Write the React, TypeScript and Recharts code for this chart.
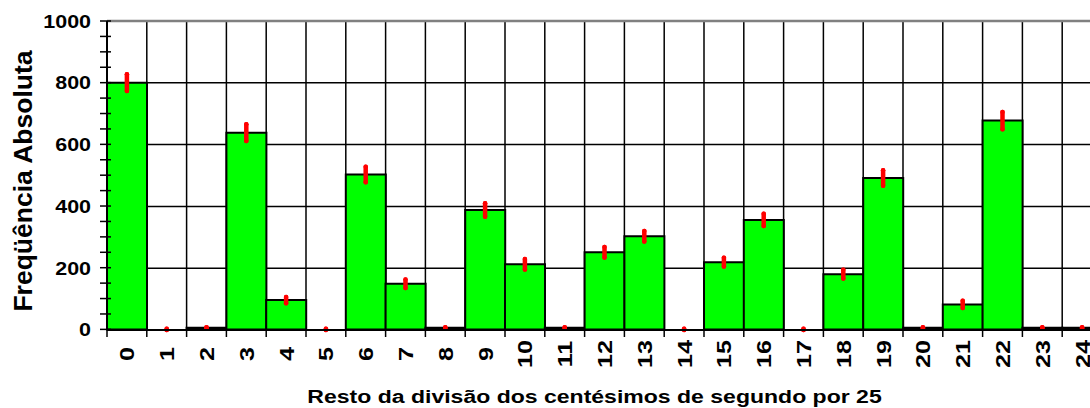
import { ComposedChart, Bar, Scatter, XAxis, YAxis, CartesianGrid, ErrorBar, ReferenceLine } from "recharts";

const categories = ["0", "1", "2", "3", "4", "5", "6", "7", "8", "9", "10", "11", "12", "13", "14", "15", "16", "17", "18", "19", "20", "21", "22", "23", "24"];
const counts = [800, 0, 5, 638, 95, 0, 502, 148, 5, 387, 211, 5, 250, 302, 0, 218, 355, 0, 179, 491, 5, 81, 677, 5, 5];
const errors = [27, 2, 2, 27, 10, 2, 25, 14, 2, 22, 17, 2, 17, 17, 2, 14, 20, 2, 14, 25, 2, 12, 28, 2, 2];

const yTicks = [0, 50, 100, 150, 200, 250, 300, 350, 400, 450, 500, 550, 600, 650, 700, 750, 800, 850, 900, 950, 1000];
const yLabels = [0, 200, 400, 600, 800, 1000];
const gridValues = [200, 400, 600, 800];

const xTitle = "Resto da divisão dos centésimos de segundo por 25";
const yTitle = "Freqüência Absoluta";

const font = "Arial, 'Liberation Sans', sans-serif";

const chartData = categories.map((c, i) => ({ cat: c, count: counts[i], err: errors[i] }));

const YTick = (props: any) => {
  const { x, y, payload } = props;
  const v = payload.value;
  return (
    <g>
      <line x1={x - 7} x2={x + 4} y1={y} y2={y} stroke="#000" strokeWidth={1.5} />
      {yLabels.includes(v) && (
        <text
          transform={`translate(${x - 16},${y + 6.8}) scale(1.16,1)`}
          textAnchor="end"
          fontFamily={font}
          fontWeight="bold"
          fontSize={18.5}
          fill="#000"
        >
          {v}
        </text>
      )}
    </g>
  );
};

const XTick = (props: any) => {
  const { x, y, payload } = props;
  const half = payload.offset || 19.9;
  return (
    <g>
      <line x1={x - half} x2={x - half} y1={y} y2={y + 7} stroke="#000" strokeWidth={1.5} />
      <text
        transform={`translate(${x + 7.5},${y + 24}) rotate(-90) scale(1.2,1)`}
        textAnchor="middle"
        fontFamily={font}
        fontWeight="bold"
        fontSize={21}
        fill="#000"
      >
        {payload.value}
      </text>
    </g>
  );
};

const NoPoint = () => <g />;

export default function App() {
  return (
    <div style={{ position: "absolute", left: 0, top: 0, width: 1090, height: 408, overflow: "hidden", background: "#fff" }}>
      <ComposedChart
        width={1110}
        height={408}
        data={chartData}
        margin={{ top: 21, right: 8, bottom: 0, left: 0 }}
        barCategoryGap={0}
        barGap={0}
      >
        <CartesianGrid
          stroke="#000"
          strokeWidth={1.5}
          horizontalCoordinatesGenerator={({ offset }: any) =>
            gridValues.map((v) => offset.top + offset.height * (1 - v / 1000))
          }
          verticalCoordinatesGenerator={({ offset }: any) =>
            categories.map((_, i) => offset.left + ((i + 1) * offset.width) / categories.length)
          }
        />
        <ReferenceLine y={1000} stroke="#808080" strokeWidth={2.5} />
        <XAxis
          dataKey="cat"
          height={78}
          interval={0}
          tickLine={false}
          tickSize={0}
          tickMargin={0}
          tick={<XTick />}
          axisLine={{ stroke: "#000", strokeWidth: 2 }}
          label={{
            content: () => (
              <text
                transform="translate(594.5,402.5) scale(1.28,1)"
                textAnchor="middle"
                fontFamily={font}
                fontWeight="bold"
                fontSize={18}
                fill="#000"
              >
                {xTitle}
              </text>
            ),
          }}
        />
        <YAxis
          width={107}
          domain={[0, 1000]}
          ticks={yTicks}
          interval={0}
          tickLine={false}
          tickSize={0}
          tickMargin={0}
          tick={<YTick />}
          axisLine={{ stroke: "#000", strokeWidth: 2 }}
          label={{
            content: () => (
              <text
                transform="translate(32,181) rotate(-90)"
                textAnchor="middle"
                fontFamily={font}
                fontWeight="bold"
                fontSize={26.5}
                fill="#000"
              >
                {yTitle}
              </text>
            ),
          }}
        />
        <Bar dataKey="count" fill="#00ff00" stroke="#000" strokeWidth={2} isAnimationActive={false} />
        <Scatter dataKey="count" shape={<NoPoint />} isAnimationActive={false}>
          <ErrorBar
            dataKey="err"
            direction="y"
            width={0}
            stroke="#ff0000"
            strokeWidth={4.5}
            strokeLinecap="round"
            isAnimationActive={false}
          />
        </Scatter>
      </ComposedChart>
    </div>
  );
}
